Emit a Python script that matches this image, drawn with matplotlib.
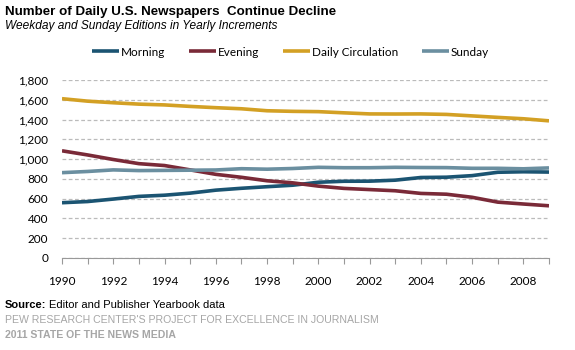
import matplotlib.pyplot as plt

years = list(range(1990, 2010))
morning = [559, 571, 596, 623, 635, 656, 686, 705, 721, 736,
           766, 776, 777, 787, 814, 817, 833, 867, 872, 869]
evening = [1084, 1042, 996, 954, 935, 891, 846, 816, 781, 760,
           727, 704, 692, 680, 653, 645, 614, 565, 546, 528]
daily = [1611, 1586, 1570, 1556, 1548, 1533, 1520, 1509, 1489, 1483,
         1480, 1468, 1457, 1456, 1457, 1452, 1437, 1422, 1408, 1387]
sunday = [863, 875, 891, 884, 886, 888, 890, 903, 898, 905,
          917, 913, 913, 917, 915, 914, 907, 907, 902, 911]

series = [("Morning", morning, "#1b5472"),
          ("Evening", evening, "#7a2a38"),
          ("Daily Circulation", daily, "#d3a024"),
          ("Sunday", sunday, "#6b8fa0")]

plt.rcParams['font.family'] = ['Lato', 'DejaVu Sans']

fig = plt.figure(figsize=(5.75, 3.5), dpi=100)
ax = fig.add_axes([62 / 575, 1 - 258 / 350, (549 - 62) / 575, (258 - 80) / 350])

for name, vals, col in series:
    ax.plot(years, vals, color=col, lw=2.6, label=name, solid_capstyle='butt')

ax.set_xlim(1990, 2009)
ax.set_ylim(0, 1800)
ax.set_yticks(range(0, 1801, 200))
ax.set_yticklabels([f"{v:,}" for v in range(0, 1801, 200)])
ax.set_xticks(years)
ax.set_xticklabels([str(y) if y % 2 == 0 else "" for y in years])
ax.yaxis.grid(True, color="#bbbbbb", ls=(0, (3, 2)), lw=0.9)
ax.set_axisbelow(True)
for s in ["top", "right", "left"]:
    ax.spines[s].set_visible(False)
ax.spines["bottom"].set_color("#999999")
ax.tick_params(axis="y", length=0, pad=10, labelsize=8.5, colors="#000000")
ax.tick_params(axis="x", direction="out", length=4, color="#999999",
               pad=9, labelsize=8.5)

fig.legend(loc="center", bbox_to_anchor=(0.505, 1 - 52 / 350), ncol=4,
           frameon=False, fontsize=8.5, handlelength=2.3, handletextpad=0.15,
           columnspacing=2.0)

fig.text(5 / 575, 1 - 12 / 350, "Number of Daily U.S. Newspapers  Continue Decline",
         family="Liberation Sans", fontweight="bold", fontsize=9.6, va="center")
fig.text(5 / 575, 1 - 26 / 350, "Weekday and Sunday Editions in Yearly Increments",
         family="Liberation Sans", style="italic", fontsize=8.6, va="center")

src = fig.text(5 / 575, 1 - 305 / 350, "Source:", family="Liberation Sans",
               fontweight="bold", fontsize=8, va="center")
fig.canvas.draw()
bb = src.get_window_extent(fig.canvas.get_renderer())
fig.text((bb.x1 + 3) / 575, 1 - 305 / 350, "Editor and Publisher Yearbook data",
         family="Liberation Sans", fontsize=8, va="center")
fig.text(5 / 575, 1 - 320 / 350,
         "PEW RESEARCH CENTER'S PROJECT FOR EXCELLENCE IN JOURNALISM",
         family="Liberation Sans", fontsize=7.6, color="#a6a6a6", va="center")
fig.text(5 / 575, 1 - 335 / 350, "2011 STATE OF THE NEWS MEDIA",
         family="Liberation Sans", fontweight="bold", fontsize=7.6,
         color="#a6a6a6", va="center")

fig.savefig("out.png", dpi=100)
